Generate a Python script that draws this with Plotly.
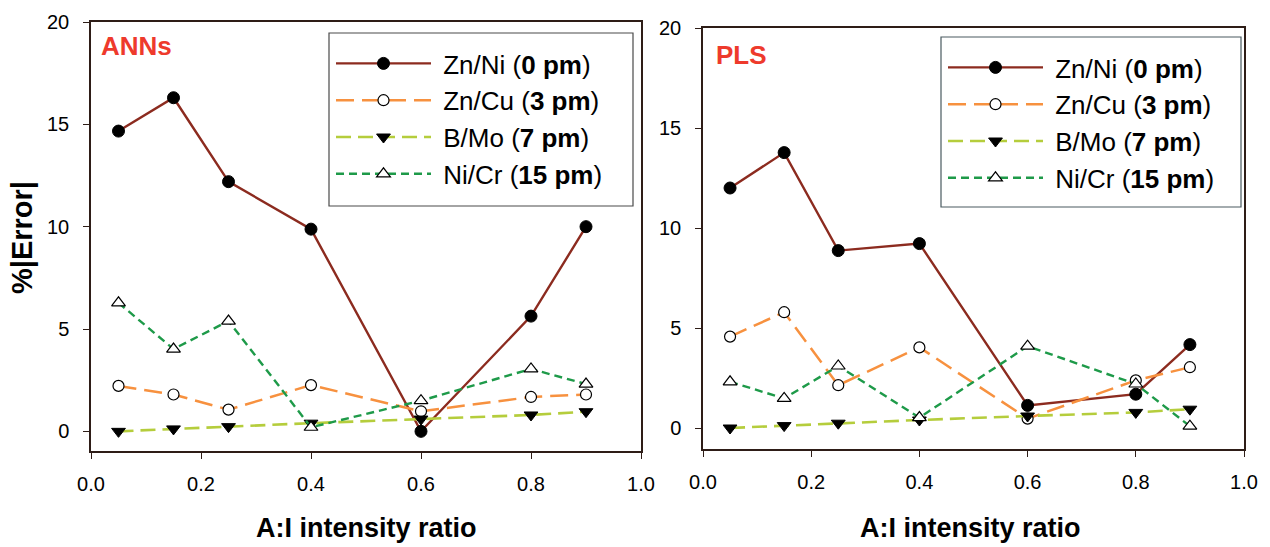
import plotly.graph_objects as go

# A:I intensity ratios shared by both panels
ratio = [0.05, 0.15, 0.25, 0.4, 0.6, 0.8, 0.9]

# %|Error| for the ANNs model
ann_zn_ni = [14.67, 16.3, 12.2, 9.88, 0.0, 5.63, 10.0]
ann_zn_cu = [2.22, 1.8, 1.06, 2.26, 0.98, 1.68, 1.8]
ann_b_mo = [0.0, 0.12, 0.23, 0.4, 0.6, 0.8, 0.96]
ann_ni_cr = [6.28, 4.02, 5.39, 0.2, 1.5, 3.05, 2.31]

# %|Error| for the PLS model
pls_zn_ni = [12.0, 13.77, 8.87, 9.22, 1.13, 1.69, 4.17]
pls_zn_cu = [4.57, 5.79, 2.14, 4.03, 0.47, 2.38, 3.04]
pls_b_mo = [0.0, 0.12, 0.24, 0.4, 0.6, 0.78, 0.94]
pls_ni_cr = [2.31, 1.48, 3.1, 0.52, 4.09, 2.2, 0.09]

series_names = [
    "Zn/Ni (<b>0 pm</b>)",
    "Zn/Cu (<b>3 pm</b>)",
    "B/Mo (<b>7 pm</b>)",
    "Ni/Cr (<b>15 pm</b>)",
]
x_ticks = [0.0, 0.2, 0.4, 0.6, 0.8, 1.0]
y_ticks = [0, 5, 10, 15, 20]

W, H = 1270, 547


def px_x(p):
    return p / W


def px_y(p):
    return 1 - p / H


styles = [
    dict(line=dict(color="#8c2b1f", width=2.4, dash="solid"),
         marker=dict(symbol="circle", size=12, color="black",
                     line=dict(color="black", width=1))),
    dict(line=dict(color="#f7913f", width=2.5, dash="18px,8px"),
         marker=dict(symbol="circle", size=11, color="white",
                     line=dict(color="black", width=1.2))),
    dict(line=dict(color="#b5cd3c", width=2.6, dash="15px,7px"),
         marker=dict(symbol="triangle-down", size=12, color="black",
                     line=dict(color="black", width=1))),
    dict(line=dict(color="#1e9a49", width=2.4, dash="8px,5px"),
         marker=dict(symbol="triangle-up", size=12, color="white",
                     line=dict(color="black", width=1.2))),
]

fig = go.Figure()

panels = [
    ("x", "y", "legend", [ann_zn_ni, ann_zn_cu, ann_b_mo, ann_ni_cr]),
    ("x2", "y2", "legend2", [pls_zn_ni, pls_zn_cu, pls_b_mo, pls_ni_cr]),
]
for xa, ya, leg, data in panels:
    for i, (name, vals) in enumerate(zip(series_names, data)):
        fig.add_trace(go.Scatter(
            x=ratio, y=vals, name="&nbsp;" + name, mode="lines+markers",
            xaxis=xa, yaxis=ya, legend=leg, legendgroup=f"{leg}{i}",
            line=styles[i]["line"], marker=styles[i]["marker"],
        ))

frame = "#2e1d17"
font_family = "Liberation Sans, Arial, sans-serif"

axis_common = dict(
    showline=True, linecolor=frame, linewidth=1.5, mirror=True,
    ticks="outside", ticklen=6, tickwidth=1.3, tickcolor=frame,
    showgrid=False, zeroline=False, automargin=False,
    tickfont=dict(family=font_family, size=20, color="black"),
)

legend_common = dict(
    xanchor="left", yanchor="top", bgcolor="rgba(0,0,0,0)", borderwidth=0,
    font=dict(family=font_family, size=26, color="black"),
    itemwidth=95, tracegroupgap=0, traceorder="grouped",
)

fig.update_layout(
    template="none",
    width=W, height=H,
    margin=dict(l=0, r=0, t=0, b=0, autoexpand=False),
    paper_bgcolor="white", plot_bgcolor="white",
    font=dict(family=font_family, color="black"),
    xaxis=dict(domain=[px_x(91), px_x(641)], range=[0, 1],
               tickvals=x_ticks, tickformat=".1f", anchor="y",
               ticklabelstandoff=8, **axis_common),
    yaxis=dict(domain=[px_y(451), px_y(22)], range=[-0.96, 20],
               tickvals=y_ticks, anchor="x", ticklabelstandoff=10,
               **axis_common),
    xaxis2=dict(domain=[px_x(703), px_x(1244)], range=[0, 1],
                tickvals=x_ticks, tickformat=".1f", anchor="y2",
                ticklabelstandoff=8, **axis_common),
    yaxis2=dict(domain=[px_y(449), px_y(28)], range=[-1.05, 20],
                tickvals=y_ticks, anchor="x2", ticklabelstandoff=10,
                **axis_common),
    legend=dict(x=px_x(331), y=px_y(40), **legend_common),
    legend2=dict(x=px_x(943), y=px_y(44), **legend_common),
    showlegend=True,
)

# legend frames
for (x0, y0, x1, y1, col) in [(329, 33, 633, 206, "#4a4a4a"),
                              (941, 37, 1241, 207, "#4a5a60")]:
    fig.add_shape(type="rect", xref="paper", yref="paper",
                  x0=px_x(x0), x1=px_x(x1), y0=px_y(y1), y1=px_y(y0),
                  line=dict(color=col, width=1.2),
                  fillcolor="rgba(0,0,0,0)", layer="above")

annotations = [
    dict(text="<b>ANNs</b>", x=px_x(99), y=px_y(46), xanchor="left",
         yanchor="middle", size=26, color="#ee3a2c"),
    dict(text="<b>PLS</b>", x=px_x(714), y=px_y(55), xanchor="left",
         yanchor="middle", size=26, color="#ee3a2c"),
    dict(text="<b>%|Error|</b>", x=px_x(22), y=px_y(238), textangle=-90,
         xanchor="center", yanchor="middle", size=29, color="black"),
    dict(text="<b>A:I intensity ratio</b>", x=px_x(366), y=px_y(528),
         xanchor="center", yanchor="middle", size=27, color="black"),
    dict(text="<b>A:I intensity ratio</b>", x=px_x(970), y=px_y(528),
         xanchor="center", yanchor="middle", size=27, color="black"),
]
for a in annotations:
    size = a.pop("size")
    color = a.pop("color")
    a.update(xref="paper", yref="paper", showarrow=False,
             font=dict(family=font_family, size=size, color=color))
fig.update_layout(annotations=annotations)

fig.write_html("out.html")
